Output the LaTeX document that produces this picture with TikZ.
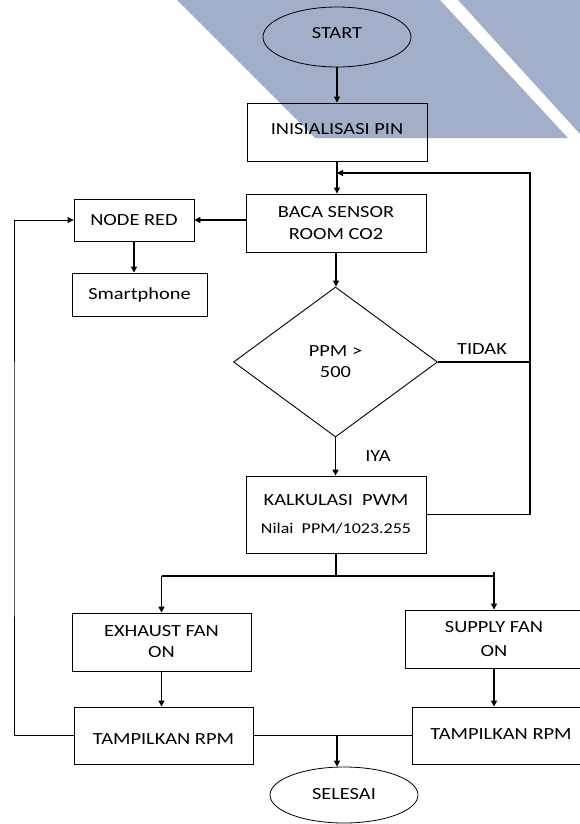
\documentclass[tikz,border=0pt]{standalone}
\usepackage{fontspec}
\setmainfont{Carlito}[FakeStretch=1.2]
\usetikzlibrary{shapes.geometric,arrows.meta}
\definecolor{band}{RGB}{163,174,200}
\begin{document}
\begin{tikzpicture}[x=1pt,y=-1pt,
  font=\fontsize{17}{21}\selectfont,
  box/.style={draw, line width=0.9pt, inner sep=0pt, align=center},
  term/.style={draw, ellipse, line width=0.8pt, inner sep=0pt},
  decis/.style={draw, diamond, line width=0.9pt, inner sep=0pt, align=center},
  arr/.style={line width=1.6pt, -{Triangle[length=6pt,width=6pt]}},
  ln/.style={line width=1.6pt},
  thinarr/.style={line width=0.9pt, -{Triangle[length=6pt,width=6pt]}},
  lbl/.style={inner sep=0pt}]
\useasboundingbox (0,0) rectangle (580,824);
\clip (0,0) rectangle (580,824);
% background bands
\fill[band] (177,0) -- (315,138) -- (568,138) -- (440,0) -- cycle;
\fill[band] (458,0) -- (580,0) -- (580,134) -- cycle;
% nodes
\node[term, minimum width=148pt, minimum height=60pt, text depth=9pt] (start) at (337,37) {START};
\node[box, minimum width=180pt, minimum height=58pt, text depth=7pt] (init) at (337,132) {INISIALISASI PIN};
\node[box, minimum width=180pt, minimum height=58pt] (baca) at (336,223) {BACA SENSOR\\[1pt]ROOM CO2};
\node[box, minimum width=120pt, minimum height=42pt] (nodered) at (134,220) {NODE RED};
\node[box, minimum width=135pt, minimum height=43pt] (smart) at (139.5,294.5) {Smartphone};
\node[decis, minimum width=204pt, minimum height=150pt] (dec) at (335.5,362) {PPM \textgreater\\500};
\node[box, minimum width=180pt, minimum height=77pt] (kalk) at (336,514.5) {KALKULASI\ \ PWM\\[7pt]{\fontsize{15}{18}\selectfont Nilai\ \ PPM/1023.255}};
\node[box, minimum width=179pt, minimum height=58pt] (exhaust) at (161.5,642) {EXHAUST FAN\\ON};
\node[box, minimum width=178pt, minimum height=58pt] (supply) at (494,639) {SUPPLY FAN\\[2.5pt]ON};
\node[box, minimum width=179pt, minimum height=57pt, text height=17pt] (tamp1) at (163.5,735.5) {TAMPILKAN RPM};
\node[box, minimum width=178pt, minimum height=57pt, text depth=3pt] (tamp2) at (501,735.5) {TAMPILKAN RPM};
\node[term, minimum width=148pt, minimum height=56pt, text depth=3pt] (selesai) at (344,795) {SELESAI};
\node[lbl] (tidak) at (482,349) {TIDAK};
\node[lbl] (iya) at (378,456) {IYA};
% helper coordinates
\coordinate (fb) at (337,173);
\coordinate (loop) at (530,173);
\coordinate (sp) at (336,576);
\coordinate (tick) at (494,572);
\coordinate (m) at (337,735.5);
\coordinate (lb) at (14,500);
% connectors
\draw[arr] (start.south) -- (init.north);
\draw[arr] (init.south) -- (init.south |- baca.north);
\draw[arr] (kalk.east) -| (loop) -- (fb);
\draw[ln] (dec.east) -- (dec.east -| loop);
\draw[arr] (baca.west |- nodered.east) -- (nodered.east);
\draw[arr] (nodered.south) -- (nodered.south |- smart.north);
\draw[arr] (baca.south) -- (baca.south |- dec.north);
\draw[arr] (dec.south) -- (dec.south |- kalk.north);
\draw[ln] (kalk.south) -- (sp);
\draw[ln] (exhaust.north |- sp) -- (supply.north |- sp);
\draw[arr] (exhaust.north |- sp) -- (exhaust.north);
\draw[arr] (tick) -- (supply.north);
\draw[arr] (exhaust.south) -- (exhaust.south |- tamp1.north);
\draw[arr] (supply.south) -- (supply.south |- tamp2.north);
\draw[ln] (tamp1.east) -- (tamp2.west);
\draw[arr] (m) -- (m |- selesai.north);
\draw[thinarr] (tamp1.west) -| (lb) |- (nodered.west);
\end{tikzpicture}
\end{document}
